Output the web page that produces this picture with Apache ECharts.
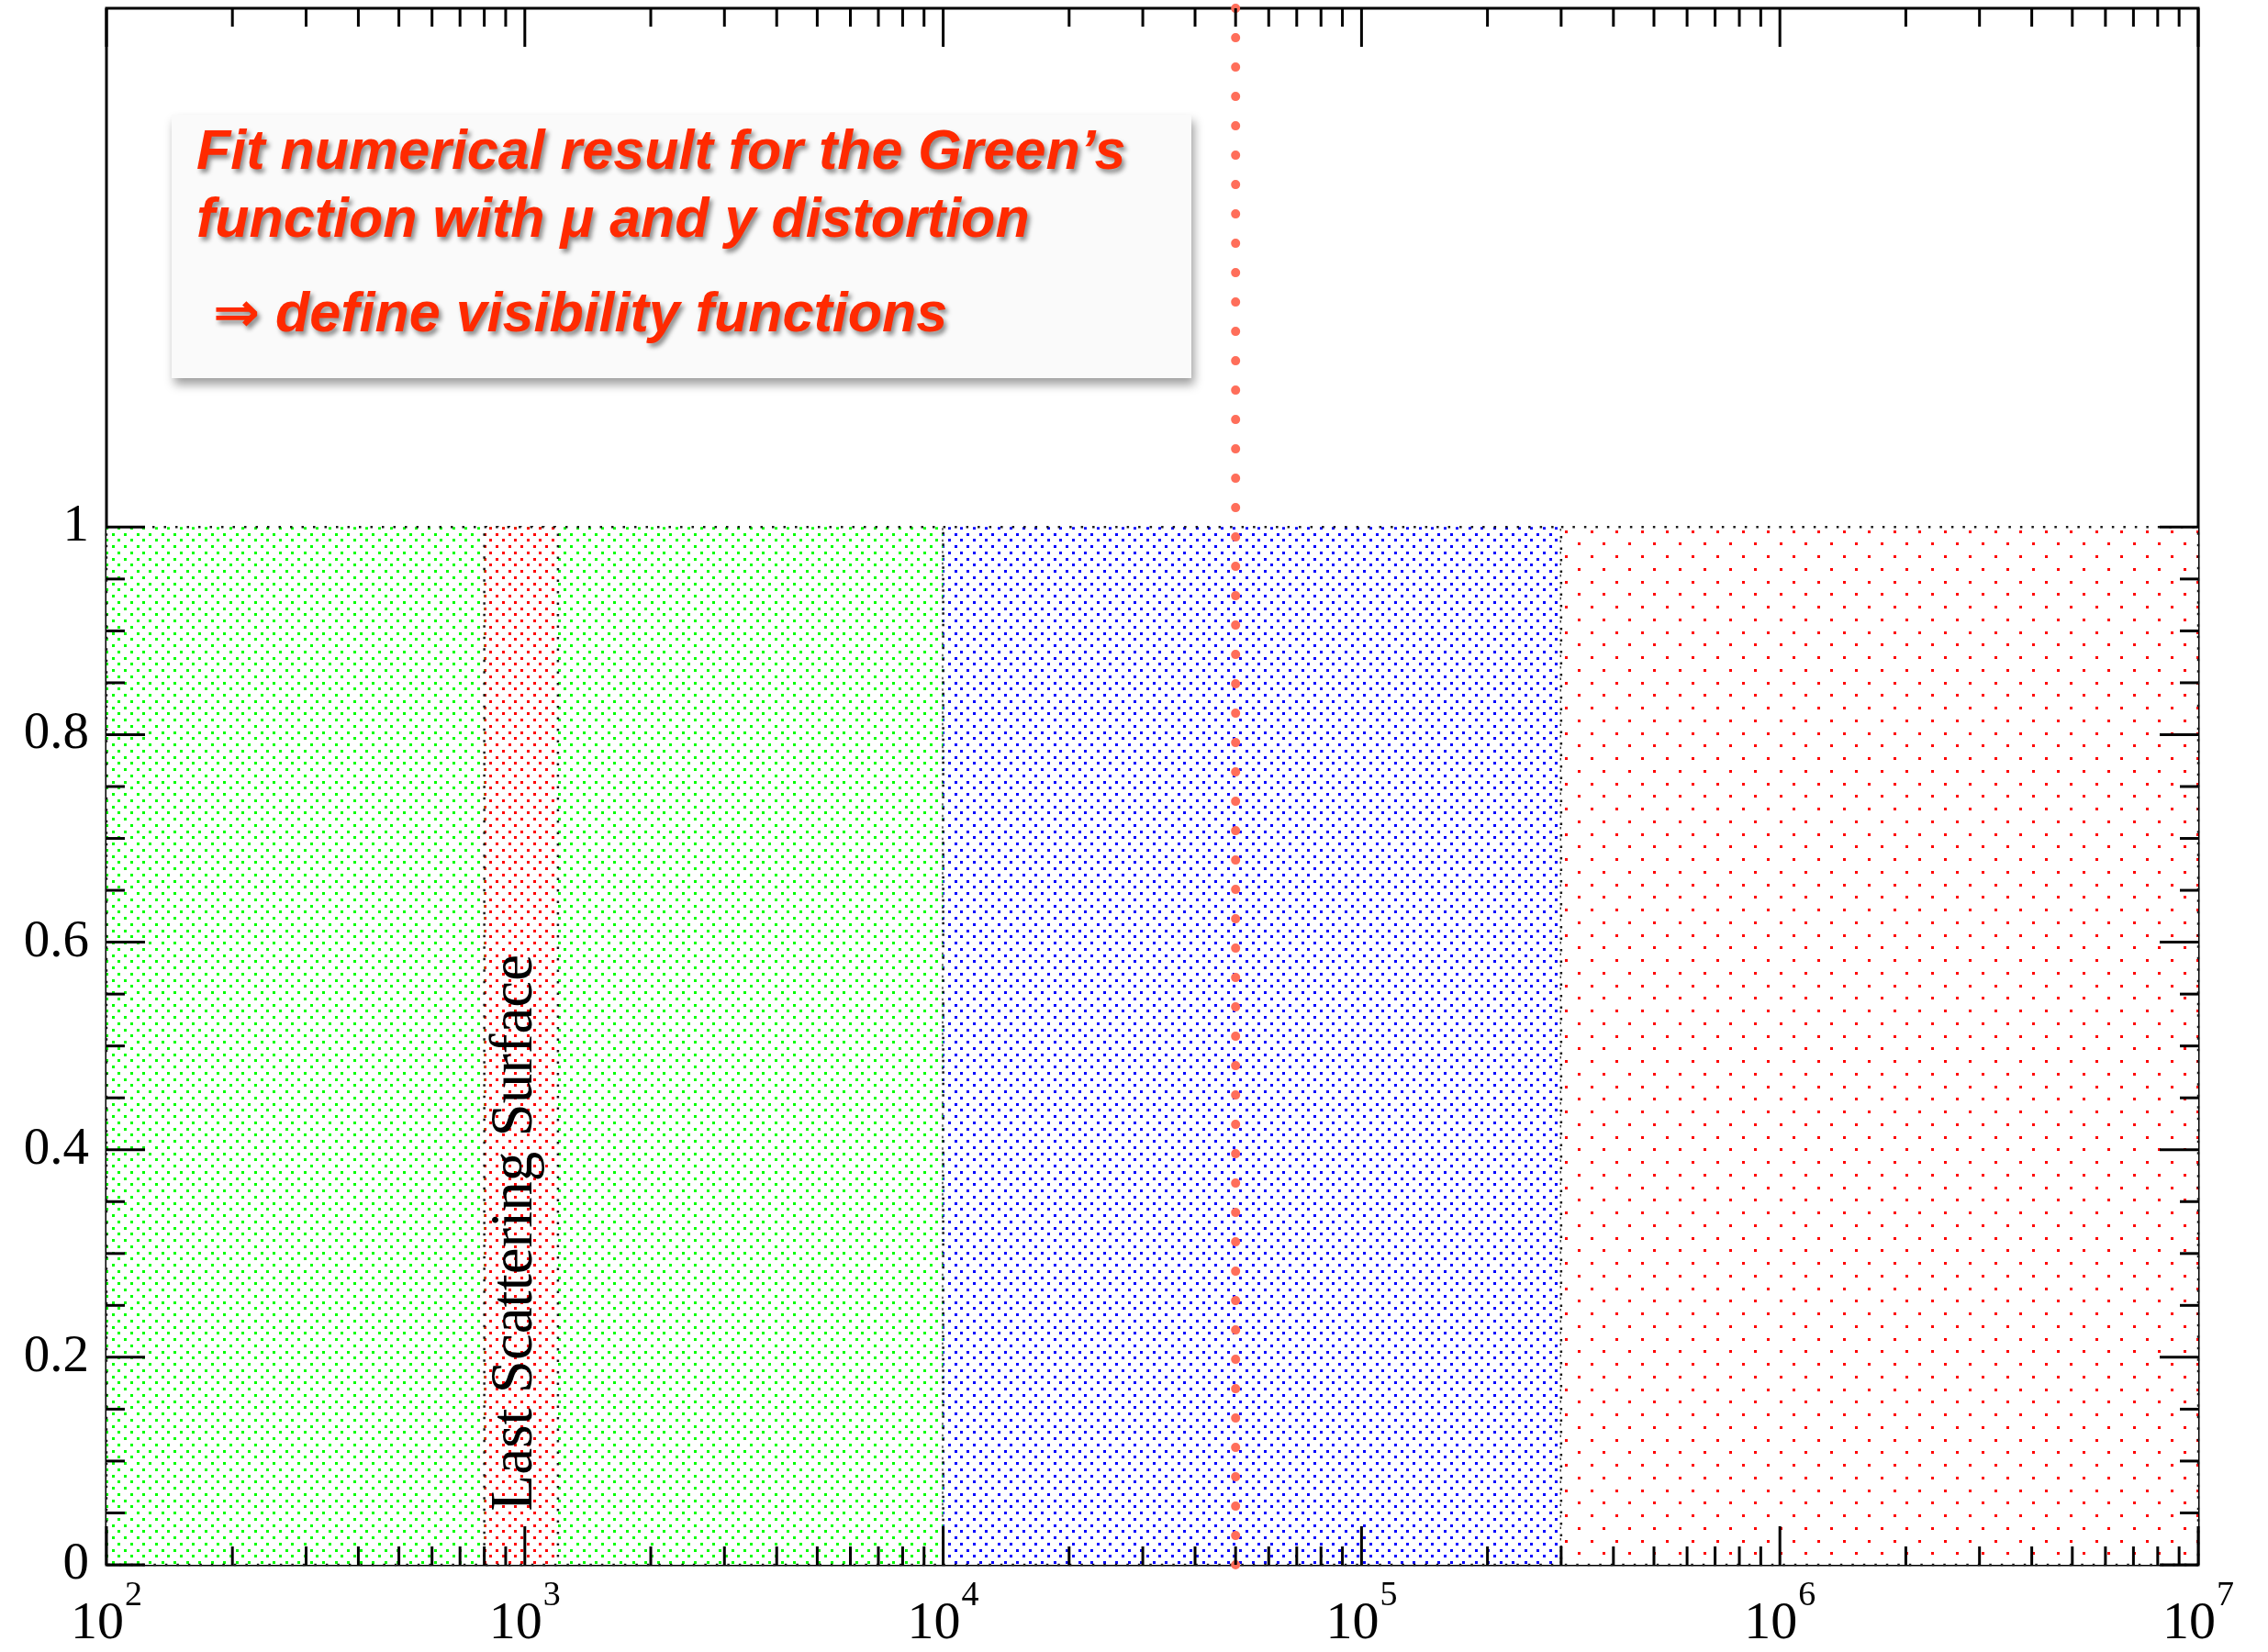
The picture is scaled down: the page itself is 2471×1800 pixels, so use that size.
<!DOCTYPE html>
<html>
<head>
<meta charset="utf-8">
<script src="https://cdn.jsdelivr.net/npm/echarts@6/dist/echarts.min.js"></script>
<style>
  html, body { margin: 0; padding: 0; background: #fff; }
  #chart { width: 2471px; height: 1800px; }
</style>
</head>
<body>
<div id="chart"></div>
<script>
// Shaded epochs in redshift, each one filled from 0 up to its top value
const bandStart = [1e2, 1e4, 3e5, 800];
const bandEnd   = [1e4, 3e5, 1e7, 1200];
const bandTop   = [1, 1, 1, 1];
const bandFill  = ['green', 'blue', 'redWide', 'red'];

// Vertical dotted marker (redshift)
const markerZ = [5e4];

// Where the rotated "Last Scattering Surface" caption sits
const lssLabelAt = [950, 0.32];
const lssLabel = 'Last Scattering Surface';

// Axis ticks and tick labels
const xMajorTicks = [1e2, 1e3, 1e4, 1e5, 1e6, 1e7];
const xTickExponents = ['2', '3', '4', '5', '6', '7'];
const xMinorTicks = [
  2e2, 3e2, 4e2, 5e2, 6e2, 7e2, 8e2, 9e2,
  2e3, 3e3, 4e3, 5e3, 6e3, 7e3, 8e3, 9e3,
  2e4, 3e4, 4e4, 5e4, 6e4, 7e4, 8e4, 9e4,
  2e5, 3e5, 4e5, 5e5, 6e5, 7e5, 8e5, 9e5,
  2e6, 3e6, 4e6, 5e6, 6e6, 7e6, 8e6, 9e6
];
const yMajorTicks = [0, 0.2, 0.4, 0.6, 0.8, 1];
const yTickLabels = ['0', '0.2', '0.4', '0.6', '0.8', '1'];
const yMinorTicks = [0.05, 0.1, 0.15, 0.25, 0.3, 0.35, 0.45, 0.5, 0.55,
                     0.65, 0.7, 0.75, 0.85, 0.9, 0.95];

// Annotation text
const noteLines = [
  'Fit numerical result for the Green\u2019s',
  'function with \u03bc and y distortion',
  '\u21d2 define visibility functions'
];

// ---- dot-hatch patterns (opaque, white ground) ----
function dotPattern(color, cell, dot) {
  const T = Math.round(cell * 2);
  const c = document.createElement('canvas');
  c.width = T; c.height = T;
  const g = c.getContext('2d');
  g.fillStyle = '#ffffff';
  g.fillRect(0, 0, T, T);
  g.fillStyle = color;
  for (let i = 0; i < 2; i++) {
    for (let j = 0; j < 2; j++) {
      g.fillRect(Math.round(i * cell), Math.round(j * cell), dot, dot);
      g.fillRect(Math.round(i * cell + cell / 2), Math.round(j * cell + cell / 2), dot, dot);
    }
  }
  return { type: 'pattern', image: c, repeat: 'repeat' };
}
const patterns = {
  green: dotPattern('#00ff00', 13.5, 3),
  blue: dotPattern('#0000ff', 13.5, 3),
  red: dotPattern('#ff0000', 13.5, 3),
  redWide: dotPattern('#ff0000', 27.5, 3)
};

function nearestIndex(list, v) {
  let best = -1, bd = Infinity;
  list.forEach((t, i) => {
    const d = Math.abs(t - v) / Math.max(Math.abs(t), 1e-9);
    if (d < bd) { bd = d; best = i; }
  });
  return bd < 1e-6 || Math.abs(list[best] - v) < 1e-9 ? best : -1;
}

const serif = '"Liberation Serif", "Times New Roman", serif';

const chart = echarts.init(document.getElementById('chart'), null, { renderer: 'canvas' });

const xTickData = xMajorTicks.map(v => [v, 1]).concat(xMinorTicks.map(v => [v, 0]));
const yTickData = yMajorTicks.map(v => [v, 1]).concat(yMinorTicks.map(v => [v, 0]));

const option = {
  backgroundColor: '#ffffff',
  animation: false,
  grid: {
    left: 116, right: 76, top: 9, bottom: 95,
    show: true, borderColor: '#000', borderWidth: 3, backgroundColor: 'transparent'
  },
  xAxis: {
    type: 'log', logBase: 10, min: 1e2, max: 1e7,
    axisLine: { show: false },
    axisTick: { show: false },
    splitLine: { show: false },
    minorTick: { show: false },
    axisLabel: {
      show: true,
      margin: 12,
      showMinLabel: true,
      showMaxLabel: true,
      hideOverlap: false,
      formatter: function (v) {
        const i = nearestIndex(xMajorTicks, v);
        if (i < 0) return '';
        return '{b|10}{e|' + xTickExponents[i] + '}';
      },
      rich: {
        // base sits low in a tall line, exponent rides at the top
        b: { fontSize: 58, fontFamily: serif, color: '#000',
             padding: [24, 0, 0, 0], verticalAlign: 'bottom' },
        e: { fontSize: 38, fontFamily: serif, color: '#000',
             padding: [3, 0, 0, 1], verticalAlign: 'top' }
      }
    }
  },
  yAxis: {
    type: 'value', min: 0, max: 1.5, interval: 0.2,
    axisLine: { show: false },
    axisTick: { show: false },
    splitLine: { show: false },
    axisLabel: {
      margin: 19,
      fontSize: 57,
      fontFamily: serif,
      color: '#000',
      showMaxLabel: true,
      formatter: function (v) {
        const i = nearestIndex(yMajorTicks, v);
        return i < 0 ? '' : yTickLabels[i];
      }
    }
  },
  series: [
    {
      // shaded epochs
      type: 'custom',
      z: 2,
      silent: true,
      data: bandStart.map((s, i) => [s, bandEnd[i], bandTop[i], i]),
      encode: { x: [0, 1], y: 2 },
      renderItem: function (params, api) {
        const i = api.value(3);
        const p0 = api.coord([api.value(0), api.value(2)]);
        const p1 = api.coord([api.value(1), 0]);
        return {
          type: 'rect',
          shape: { x: p0[0], y: p0[1], width: p1[0] - p0[0], height: p1[1] - p0[1] },
          style: {
            fill: patterns[bandFill[i]],
            stroke: '#1a1a1a',
            lineWidth: 2.5,
            lineDash: [2.5, 10]
          }
        };
      }
    },
    {
      // x ticks, bottom and top edges
      type: 'custom',
      z: 6,
      silent: true,
      data: xTickData,
      encode: { x: 0 },
      renderItem: function (params, api) {
        const x = api.coord([api.value(0), 0])[0];
        const cs = params.coordSys;
        const L = api.value(1) ? 42 : 20;
        const yb = cs.y + cs.height, yt = cs.y;
        return {
          type: 'group',
          children: [
            { type: 'line', shape: { x1: x, y1: yb, x2: x, y2: yb - L }, style: { stroke: '#000', lineWidth: 3 } },
            { type: 'line', shape: { x1: x, y1: yt, x2: x, y2: yt + L }, style: { stroke: '#000', lineWidth: 3 } }
          ]
        };
      }
    },
    {
      // y ticks, left and right edges
      type: 'custom',
      z: 6,
      silent: true,
      data: yTickData,
      encode: { y: 0 },
      renderItem: function (params, api) {
        const y = api.coord([1e2, api.value(0)])[1];
        const cs = params.coordSys;
        const L = api.value(1) ? 42 : 20;
        const xl = cs.x, xr = cs.x + cs.width;
        return {
          type: 'group',
          children: [
            { type: 'line', shape: { x1: xl, y1: y, x2: xl + L, y2: y }, style: { stroke: '#000', lineWidth: 3 } },
            { type: 'line', shape: { x1: xr, y1: y, x2: xr - L, y2: y }, style: { stroke: '#000', lineWidth: 3 } }
          ]
        };
      }
    },
    {
      // vertical dotted marker
      type: 'line',
      z: 5,
      silent: true,
      symbol: 'none',
      data: [[markerZ[0], 1.5], [markerZ[0], 0]],
      lineStyle: { color: '#ff6e5a', width: 10, type: [0.1, 31.9], cap: 'round' }
    },
    {
      // caption for the last-scattering band
      type: 'scatter',
      z: 7,
      silent: true,
      symbolSize: 1,
      itemStyle: { color: 'rgba(0,0,0,0)' },
      data: [lssLabelAt],
      label: {
        show: true,
        position: 'inside',
        rotate: 90,
        formatter: lssLabel,
        fontSize: 65,
        fontFamily: serif,
        color: '#000',
        opacity: 1,
        textBorderWidth: 0
      }
    }
  ],
  graphic: [
    {
      type: 'rect',
      z: 100,
      shape: { x: 187, y: 125, width: 1111, height: 287 },
      style: {
        fill: '#fafafa',
        shadowBlur: 10,
        shadowOffsetX: 3,
        shadowOffsetY: 7,
        shadowColor: 'rgba(0,0,0,0.38)'
      }
    }
  ].concat(noteLines.map((t, i) => ({
    type: 'text',
    z: 101,
    x: i === 2 ? 232 : 214,
    y: [167, 241, 344][i],
    style: {
      text: t,
      fontSize: 61,
      fontWeight: 'bold',
      fontStyle: 'italic',
      fontFamily: '"Liberation Sans", Arial, "DejaVu Sans", sans-serif',
      fill: '#ff2a00',
      verticalAlign: 'middle',
      align: 'left',
      textShadowColor: 'rgba(0,0,0,0.45)',
      textShadowBlur: 5,
      textShadowOffsetX: 3,
      textShadowOffsetY: 4
    }
  })))
};

chart.setOption(option);
</script>
</body>
</html>
